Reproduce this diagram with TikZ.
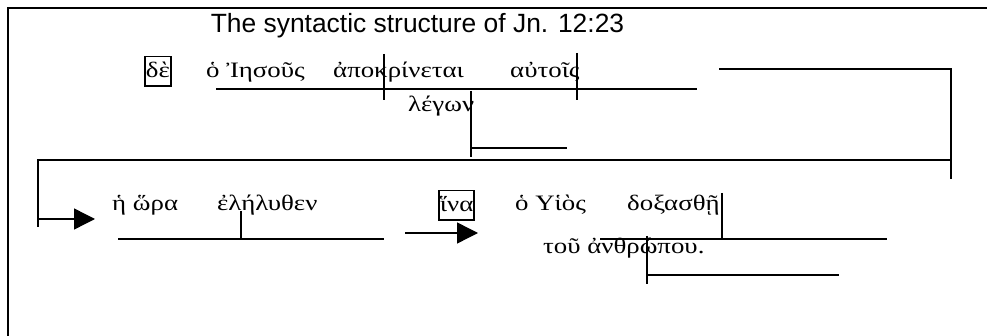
\documentclass[tikz,border=0pt]{standalone}
\usepackage{fontspec}
\setmainfont{Liberation Serif}
\newfontfamily\greekfont[FakeStretch=1.22]{Liberation Serif}
\newfontfamily\titlefont{Liberation Sans}
\usetikzlibrary{arrows.meta}
\begin{document}
\begin{tikzpicture}[x=1pt,y=-1pt,
  greek/.style={anchor=base west,inner sep=0pt,font=\greekfont\fontsize{22}{24}\selectfont},
  boxed/.style={greek,draw,line width=1.8pt,inner xsep=1pt,inner ysep=0.5pt,text height=21pt,text depth=7.5pt},
  diag/.style={line width=1.2pt},
  frame/.style={line width=2.2pt},
  bigarrow/.style={line width=1.4pt,-{Triangle[length=21pt,width=21pt]}}]
\useasboundingbox (0,0) rectangle (987,336);
% frame
\draw[frame] (8,336) -- (8,8) -- (988,8);
% title
\node[anchor=base,inner sep=0pt,font=\titlefont\fontsize{26.4}{29}\selectfont] (title) at (417.5,33) {The syntactic structure of Jn. 12:23};
% row 1
\node[boxed] (de) at (144,78) {δὲ};
\node[greek] (iesous) at (206,78) {ὁ Ἰησοῦς};
\node[greek] (apokr) at (333,78) {ἀποκρίνεται};
\node[greek] (autois) at (510,78) {αὐτοῖς};
\node[greek] (legon) at (408,112) {λέγων};
\draw[diag] (216,89) -- (697,89);
\draw[diag] (384,54) -- (384,100);
\draw[diag] (577,53) -- (577,100);
\draw[diag] (471,91) -- (471,157);
\draw[diag] (471,148) -- (567,148);
% connector to row 2
\draw[diag] (719,69) -- (951,69) -- (951,179);
\draw[diag] (951,160) -- (38,160) -- (38,227);
\draw[bigarrow] (38,219) -- (95,219);
% row 2
\node[greek] (hora) at (112,211) {ἡ ὥρα};
\node[greek] (elelythen) at (217,211) {ἐλήλυθεν};
\draw[diag] (118,239) -- (384,239);
\draw[diag] (241,211) -- (241,239);
\draw[bigarrow] (405,233) -- (478,233);
\node[boxed] (hina) at (438,212) {ἵνα};
\node[greek] (huios) at (515,211) {ὁ Υἱὸς};
\node[greek] (doxasthe) at (627,211) {δοξασθῇ};
\draw[diag] (722,193) -- (722,239);
\draw[diag] (600,239) -- (887,239);
\node[greek] (anthropou) at (543,254) {τοῦ ἀνθρώπου.};
\draw[diag] (647,236) -- (647,284);
\draw[diag] (647,275) -- (839,275);
\end{tikzpicture}
\end{document}
